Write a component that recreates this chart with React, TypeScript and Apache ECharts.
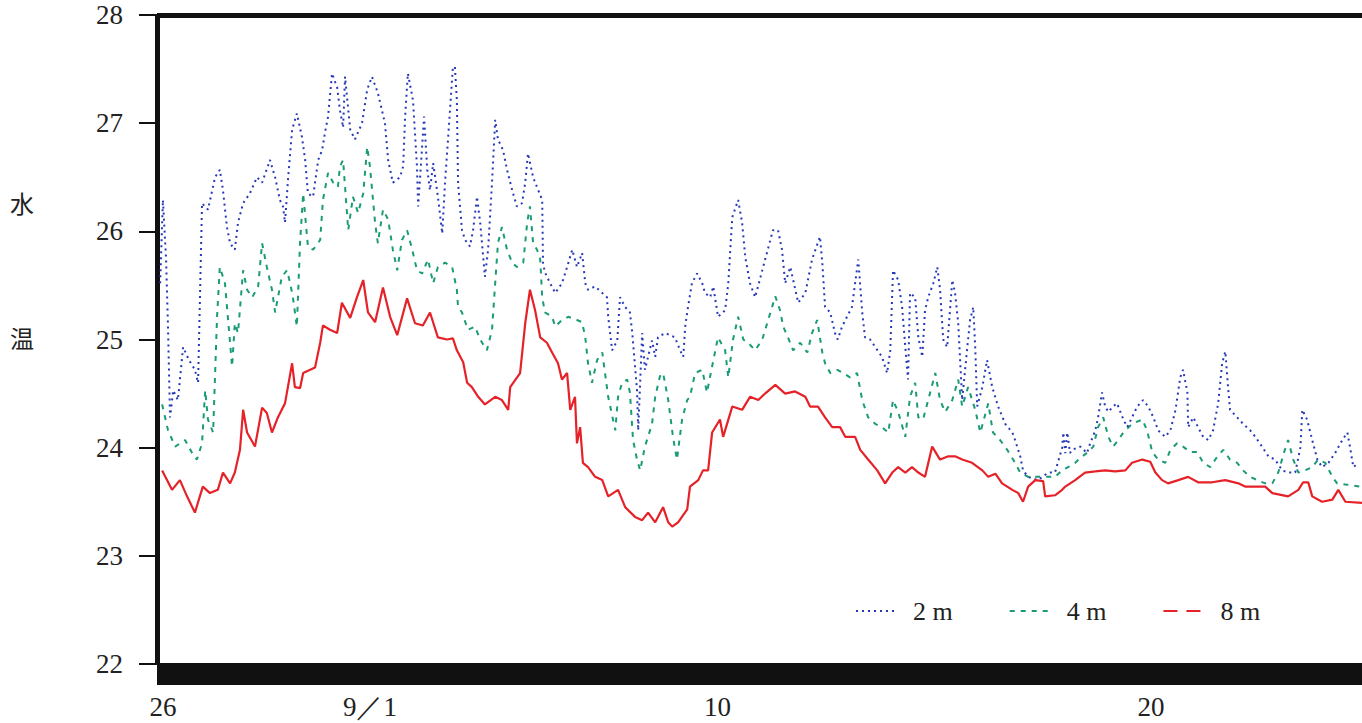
import React, { useEffect, useRef } from "react";
import * as echarts from "echarts";

// x = days since 8/26 00:00, y = water temperature (°C)
const tickDays = [0.15, 5.39, 14.19, 25.16];
const tickLabels = ["26", "9／1", "10", "20"];
const yTitle = ["水", "温"];
const seriesNames = ["2 m", "4 m", "8 m"];

const depth2m: number[][] = [
  [0.08, 25.52], [0.15, 26.29], [0.23, 25.74], [0.28, 25.09], [0.33, 24.28], [0.41, 24.53], [0.53, 24.44],
  [0.66, 24.93], [0.81, 24.81], [0.96, 24.72], [1.04, 24.6], [1.14, 26.26], [1.29, 26.2], [1.47, 26.5],
  [1.59, 26.57], [1.67, 26.38], [1.77, 26.04], [1.85, 25.89], [1.97, 25.83], [2.05, 26.08], [2.18, 26.26],
  [2.35, 26.35], [2.53, 26.5], [2.66, 26.45], [2.86, 26.66], [2.99, 26.5], [3.11, 26.29], [3.19, 26.23],
  [3.24, 26.08], [3.32, 26.5], [3.42, 26.94], [3.54, 27.09], [3.67, 26.87], [3.75, 26.66], [3.82, 26.35],
  [3.95, 26.32], [4.08, 26.66], [4.18, 26.75], [4.25, 26.91], [4.33, 27.06], [4.43, 27.46], [4.56, 27.33],
  [4.63, 27.12], [4.71, 26.96], [4.76, 27.43], [4.89, 26.94], [5.01, 26.85], [5.19, 27.0], [5.32, 27.31],
  [5.44, 27.43], [5.59, 27.28], [5.77, 27.0], [5.85, 26.66], [5.97, 26.45], [6.15, 26.5], [6.23, 26.6],
  [6.28, 27.06], [6.35, 27.46], [6.48, 27.21], [6.58, 26.6], [6.61, 26.23], [6.71, 26.78], [6.76, 27.06],
  [6.84, 26.57], [6.91, 26.38], [6.99, 26.63], [7.11, 26.32], [7.22, 25.98], [7.29, 26.45], [7.37, 26.87],
  [7.49, 27.52], [7.54, 27.52], [7.59, 27.21], [7.62, 26.45], [7.72, 26.01], [7.8, 25.92], [7.92, 25.86],
  [8.0, 26.01], [8.1, 26.32], [8.18, 26.08], [8.3, 25.58], [8.38, 25.83], [8.48, 26.45], [8.56, 27.03],
  [8.63, 26.85], [8.76, 26.75], [8.86, 26.57], [8.99, 26.38], [9.11, 26.23], [9.24, 26.26], [9.32, 26.45],
  [9.39, 26.72], [9.52, 26.5], [9.65, 26.38], [9.75, 26.29], [9.77, 25.71], [9.82, 25.62], [9.95, 25.52],
  [10.08, 25.43], [10.25, 25.52], [10.38, 25.67], [10.51, 25.83], [10.63, 25.67], [10.76, 25.8], [10.84, 25.52],
  [10.91, 25.46], [11.09, 25.49], [11.27, 25.43], [11.39, 25.39], [11.42, 25.21], [11.52, 24.9], [11.65, 24.99],
  [11.72, 25.39], [11.85, 25.3], [11.97, 25.25], [12.03, 25.06], [12.15, 24.53], [12.18, 24.16], [12.28, 25.06],
  [12.35, 24.72], [12.43, 24.84], [12.53, 24.99], [12.61, 24.84], [12.68, 25.02], [12.86, 25.06], [13.11, 25.02],
  [13.24, 24.9], [13.32, 24.84], [13.37, 25.12], [13.44, 25.3], [13.54, 25.52], [13.67, 25.61], [13.8, 25.52],
  [13.87, 25.43], [14.0, 25.39], [14.08, 25.49], [14.2, 25.21], [14.38, 25.27], [14.46, 25.52], [14.56, 26.13],
  [14.71, 26.29], [14.81, 26.08], [14.89, 25.76], [15.01, 25.52], [15.14, 25.39], [15.32, 25.64], [15.59, 26.01],
  [15.72, 26.01], [15.82, 25.83], [15.9, 25.52], [16.03, 25.67], [16.23, 25.34], [16.41, 25.43], [16.58, 25.74],
  [16.78, 25.95], [16.84, 25.71], [16.91, 25.3], [17.04, 25.25], [17.16, 25.06], [17.23, 25.0], [17.34, 25.12],
  [17.59, 25.3], [17.75, 25.74], [17.85, 25.25], [17.92, 25.02], [18.05, 25.0], [18.18, 24.93], [18.35, 24.84],
  [18.48, 24.69], [18.56, 24.9], [18.63, 25.64], [18.76, 25.55], [18.86, 25.3], [18.94, 24.93], [19.01, 24.63],
  [19.06, 25.43], [19.19, 25.39], [19.27, 25.02], [19.37, 24.84], [19.44, 25.27], [19.52, 25.39], [19.65, 25.52],
  [19.75, 25.67], [19.82, 25.46], [19.9, 25.0], [20.0, 24.93], [20.13, 25.55], [20.2, 25.43], [20.28, 25.15],
  [20.38, 24.44], [20.51, 24.93], [20.58, 25.18], [20.66, 25.3], [20.71, 24.93], [20.76, 24.38], [20.89, 24.56],
  [21.01, 24.81], [21.14, 24.56], [21.29, 24.38], [21.47, 24.22], [21.65, 24.14], [21.72, 24.07], [21.85, 23.92],
  [21.92, 23.79], [22.05, 23.73], [22.3, 23.7], [22.56, 23.77], [22.73, 23.77], [22.91, 24.0], [22.94, 24.14],
  [22.99, 23.95], [23.04, 24.14], [23.11, 23.95], [23.16, 23.98], [23.37, 24.01], [23.54, 23.95], [23.62, 24.04],
  [23.75, 24.16], [23.82, 24.28], [23.92, 24.51], [24.0, 24.38], [24.08, 24.33], [24.2, 24.38], [24.3, 24.41],
  [24.46, 24.26], [24.56, 24.19], [24.68, 24.28], [24.81, 24.38], [24.96, 24.44], [25.09, 24.38], [25.22, 24.28],
  [25.34, 24.16], [25.52, 24.1], [25.65, 24.16], [25.78, 24.35], [25.9, 24.65], [25.97, 24.72], [26.08, 24.51],
  [26.1, 24.19], [26.23, 24.28], [26.35, 24.19], [26.48, 24.1], [26.61, 24.07], [26.73, 24.16], [26.86, 24.41],
  [26.96, 24.78], [27.04, 24.89], [27.11, 24.56], [27.16, 24.35], [27.34, 24.28], [27.49, 24.22], [27.67, 24.16],
  [27.8, 24.1], [27.97, 24.01], [28.13, 23.92], [28.3, 23.89], [28.48, 23.79], [28.63, 23.77], [28.81, 23.77],
  [28.94, 24.0], [28.99, 24.35], [29.11, 24.26], [29.24, 24.07], [29.37, 23.89], [29.49, 23.82], [29.65, 23.86],
  [29.82, 23.95], [30.0, 24.07], [30.13, 24.14], [30.2, 24.0], [30.28, 23.82], [30.41, 23.86],
];

const depth4m: number[][] = [
  [0.13, 24.4], [0.28, 24.16], [0.46, 24.01], [0.71, 24.07], [0.89, 23.95], [1.01, 23.89], [1.14, 24.04],
  [1.22, 24.53], [1.29, 24.26], [1.42, 24.14], [1.52, 25.21], [1.59, 25.67], [1.72, 25.52], [1.8, 25.18],
  [1.9, 24.75], [1.97, 25.15], [2.05, 25.06], [2.18, 25.64], [2.28, 25.46], [2.41, 25.39], [2.56, 25.49],
  [2.66, 25.89], [2.78, 25.67], [2.91, 25.46], [2.99, 25.25], [3.16, 25.58], [3.29, 25.64], [3.37, 25.52],
  [3.44, 25.39], [3.54, 25.12], [3.62, 25.89], [3.7, 26.35], [3.82, 25.86], [3.95, 25.83], [4.13, 25.92],
  [4.2, 26.29], [4.33, 26.54], [4.46, 26.45], [4.58, 26.41], [4.63, 26.6], [4.71, 26.66], [4.84, 26.01],
  [4.96, 26.32], [5.09, 26.17], [5.22, 26.35], [5.32, 26.78], [5.39, 26.6], [5.52, 26.08], [5.59, 25.89],
  [5.72, 26.2], [5.85, 26.11], [5.97, 25.83], [6.08, 25.64], [6.2, 25.92], [6.33, 26.01], [6.46, 25.83],
  [6.58, 25.64], [6.71, 25.61], [6.86, 25.74], [6.99, 25.52], [7.11, 25.67], [7.29, 25.71], [7.47, 25.67],
  [7.59, 25.46], [7.62, 25.3], [7.72, 25.25], [7.87, 25.09], [8.05, 25.12], [8.18, 25.0], [8.35, 24.9],
  [8.48, 25.09], [8.56, 25.52], [8.63, 25.89], [8.73, 26.04], [8.86, 25.83], [8.99, 25.71], [9.11, 25.67],
  [9.27, 25.71], [9.37, 26.08], [9.44, 26.23], [9.52, 25.89], [9.62, 25.83], [9.7, 25.74], [9.75, 25.39],
  [9.82, 25.25], [10.0, 25.21], [10.08, 25.12], [10.25, 25.18], [10.41, 25.21], [10.63, 25.18], [10.76, 25.16],
  [10.84, 25.02], [10.91, 24.78], [11.01, 24.6], [11.14, 24.81], [11.27, 24.88], [11.34, 24.69], [11.42, 24.47],
  [11.6, 24.16], [11.67, 24.47], [11.77, 24.6], [11.9, 24.63], [11.97, 24.51], [12.05, 24.07], [12.15, 23.89],
  [12.23, 23.79], [12.35, 24.01], [12.53, 24.22], [12.61, 24.47], [12.73, 24.66], [12.81, 24.69], [12.94, 24.44],
  [13.06, 24.1], [13.16, 23.89], [13.29, 24.26], [13.42, 24.44], [13.49, 24.47], [13.62, 24.69], [13.8, 24.72],
  [13.92, 24.51], [14.05, 24.75], [14.2, 25.02], [14.38, 24.9], [14.46, 24.65], [14.58, 25.0], [14.71, 25.21],
  [14.84, 25.0], [14.96, 24.97], [15.14, 24.9], [15.32, 25.0], [15.65, 25.4], [15.77, 25.27], [15.85, 25.12],
  [15.97, 25.02], [16.1, 24.9], [16.28, 24.97], [16.46, 24.88], [16.58, 25.06], [16.71, 25.18], [16.84, 24.88],
  [16.91, 24.78], [17.04, 24.69], [17.22, 24.72], [17.37, 24.69], [17.54, 24.65], [17.72, 24.69], [17.85, 24.44],
  [18.0, 24.28], [18.18, 24.22], [18.35, 24.19], [18.51, 24.14], [18.63, 24.44], [18.76, 24.33], [18.94, 24.1],
  [19.06, 24.47], [19.19, 24.6], [19.27, 24.28], [19.39, 24.26], [19.52, 24.44], [19.7, 24.69], [19.82, 24.44],
  [19.95, 24.33], [20.13, 24.44], [20.28, 24.63], [20.38, 24.38], [20.53, 24.56], [20.71, 24.35], [20.84, 24.14],
  [21.04, 24.41], [21.16, 24.14], [21.34, 24.07], [21.52, 23.98], [21.67, 23.89], [21.85, 23.77], [22.05, 23.73],
  [22.3, 23.73], [22.56, 23.73], [22.73, 23.73], [22.91, 23.79], [23.06, 23.82], [23.24, 23.86], [23.42, 23.92],
  [23.57, 23.96], [23.7, 24.01], [23.82, 24.19], [23.95, 24.28], [24.08, 24.1], [24.2, 24.01], [24.33, 24.07],
  [24.46, 24.14], [24.68, 24.22], [24.94, 24.26], [25.06, 24.16], [25.19, 23.96], [25.34, 23.89], [25.52, 23.86],
  [25.65, 23.98], [25.82, 24.04], [25.97, 24.01], [26.15, 23.96], [26.33, 23.96], [26.48, 23.86], [26.66, 23.82],
  [26.84, 23.92], [26.99, 23.98], [27.16, 23.89], [27.34, 23.86], [27.49, 23.79], [27.67, 23.73], [27.85, 23.7],
  [28.05, 23.67], [28.23, 23.67], [28.38, 23.77], [28.53, 23.96], [28.63, 24.07], [28.76, 23.89], [28.89, 23.77],
  [29.06, 23.79], [29.24, 23.82], [29.39, 23.89], [29.57, 23.86], [29.75, 23.73], [29.87, 23.67], [30.08, 23.66],
  [30.46, 23.64],
];

const depth8m: number[][] = [
  [0.13, 23.79], [0.38, 23.61], [0.58, 23.7], [0.76, 23.55], [0.96, 23.4], [1.16, 23.64], [1.34, 23.58],
  [1.54, 23.61], [1.67, 23.77], [1.85, 23.67], [1.97, 23.77], [2.1, 23.98], [2.18, 24.35], [2.28, 24.14],
  [2.48, 24.01], [2.66, 24.37], [2.78, 24.32], [2.91, 24.14], [3.06, 24.28], [3.24, 24.41], [3.42, 24.78],
  [3.49, 24.56], [3.62, 24.55], [3.7, 24.69], [4.0, 24.74], [4.13, 24.97], [4.2, 25.13], [4.38, 25.09],
  [4.56, 25.06], [4.68, 25.34], [4.89, 25.2], [5.06, 25.39], [5.22, 25.55], [5.34, 25.25], [5.52, 25.16],
  [5.72, 25.48], [5.9, 25.21], [6.08, 25.04], [6.33, 25.38], [6.53, 25.15], [6.73, 25.13], [6.91, 25.25],
  [7.11, 25.02], [7.34, 25.0], [7.49, 25.01], [7.59, 24.9], [7.75, 24.79], [7.85, 24.6], [7.97, 24.56],
  [8.13, 24.47], [8.3, 24.4], [8.56, 24.47], [8.73, 24.44], [8.89, 24.35], [8.94, 24.56], [9.19, 24.69],
  [9.32, 25.15], [9.44, 25.46], [9.57, 25.27], [9.7, 25.02], [9.87, 24.97], [10.0, 24.88], [10.15, 24.78],
  [10.25, 24.63], [10.38, 24.69], [10.46, 24.35], [10.58, 24.47], [10.63, 24.04], [10.71, 24.19], [10.78, 23.86],
  [10.91, 23.82], [11.09, 23.73], [11.27, 23.7], [11.42, 23.55], [11.67, 23.61], [11.85, 23.45], [12.1, 23.36],
  [12.28, 23.33], [12.43, 23.4], [12.61, 23.31], [12.81, 23.45], [12.94, 23.31], [13.04, 23.27], [13.19, 23.31],
  [13.42, 23.43], [13.49, 23.64], [13.7, 23.7], [13.82, 23.79], [13.95, 23.79], [14.05, 24.14], [14.25, 24.26],
  [14.33, 24.1], [14.56, 24.38], [14.81, 24.35], [15.01, 24.47], [15.22, 24.44], [15.39, 24.5], [15.65, 24.58],
  [15.9, 24.5], [16.15, 24.52], [16.41, 24.47], [16.53, 24.38], [16.73, 24.38], [16.91, 24.28], [17.09, 24.19],
  [17.29, 24.19], [17.42, 24.1], [17.67, 24.1], [17.8, 23.98], [18.0, 23.89], [18.23, 23.79], [18.43, 23.67],
  [18.61, 23.77], [18.76, 23.82], [18.94, 23.77], [19.11, 23.82], [19.27, 23.77], [19.44, 23.73], [19.62, 24.01],
  [19.82, 23.89], [20.03, 23.92], [20.2, 23.92], [20.38, 23.89], [20.63, 23.86], [20.89, 23.79], [21.04, 23.73],
  [21.22, 23.76], [21.39, 23.67], [21.65, 23.61], [21.8, 23.58], [21.92, 23.5], [22.05, 23.64], [22.23, 23.7],
  [22.43, 23.69], [22.48, 23.55], [22.73, 23.56], [22.91, 23.61], [22.99, 23.64], [23.24, 23.7], [23.49, 23.77],
  [23.75, 23.78], [24.0, 23.79], [24.25, 23.78], [24.51, 23.79], [24.68, 23.86], [24.94, 23.89], [25.14, 23.87],
  [25.27, 23.77], [25.44, 23.7], [25.59, 23.67], [25.85, 23.7], [26.1, 23.73], [26.35, 23.68], [26.71, 23.68],
  [27.04, 23.7], [27.37, 23.67], [27.54, 23.64], [28.05, 23.64], [28.23, 23.58], [28.63, 23.55], [28.89, 23.61],
  [29.01, 23.68], [29.14, 23.68], [29.24, 23.55], [29.49, 23.5], [29.75, 23.52], [29.9, 23.61], [30.08, 23.5],
  [30.5, 23.49],
];

const SERIF = "'Liberation Serif', 'DejaVu Serif', serif";
const CJK = "'Noto Sans CJK JP', sans-serif";

export default function App() {
  const ref = useRef<HTMLDivElement>(null);
  useEffect(() => {
    if (!ref.current) return;
    const chart = echarts.init(ref.current, undefined, { renderer: "svg" });
    const labelFor = (v: number) => {
      let best = 0;
      for (let i = 1; i < tickDays.length; i++) {
        if (Math.abs(tickDays[i] - v) < Math.abs(tickDays[best] - v)) best = i;
      }
      return tickLabels[best];
    };
    chart.setOption({
      animation: false,
      backgroundColor: "#ffffff",
      grid: { left: 157, right: 0, top: 15, bottom: 59 },
      xAxis: [
        {
          type: "value",
          min: 0,
          max: 30.5,
          position: "bottom",
          offset: 10,
          axisLine: { show: true, lineStyle: { color: "#111", width: 22, cap: "butt" } },
          axisTick: { show: false },
          splitLine: { show: false },
          axisLabel: {
            customValues: tickDays,
            formatter: (v: number) => labelFor(v),
            margin: 19,
            fontSize: 27,
            fontFamily: SERIF,
            color: "#222",
            showMinLabel: true,
            showMaxLabel: true,
          },
        },
        {
          type: "value",
          min: 0,
          max: 30.5,
          position: "top",
          axisLine: { show: true, lineStyle: { color: "#111", width: 5, cap: "butt" } },
          axisTick: { show: false },
          axisLabel: { show: false },
          splitLine: { show: false },
        },
      ],
      yAxis: {
        type: "value",
        min: 22,
        max: 28,
        interval: 1,
        axisLine: { show: true, lineStyle: { color: "#111", width: 5, cap: "butt" } },
        axisTick: { show: true, length: 18, lineStyle: { color: "#111", width: 2 } },
        splitLine: { show: false },
        axisLabel: { margin: 34, fontSize: 27, fontFamily: SERIF, color: "#222" },
      },
      legend: {
        left: 850,
        top: 593,
        itemWidth: 40,
        itemHeight: 14,
        itemGap: 56,
        itemStyle: { color: "transparent", borderWidth: 0, opacity: 0 },
        textStyle: { fontSize: 26, fontFamily: SERIF, color: "#222", padding: [0, 0, 0, 12] },
        data: [
          { name: seriesNames[0] },
          { name: seriesNames[1] },
          { name: seriesNames[2], lineStyle: { type: [14, 9], width: 2 } },
        ],
      },
      graphic: [
        { type: "text", left: 10, top: 190, style: { text: yTitle[0], fontSize: 24, fontFamily: CJK, fill: "#222" } },
        { type: "text", left: 10, top: 325, style: { text: yTitle[1], fontSize: 24, fontFamily: CJK, fill: "#222" } },
      ],
      series: [
        {
          name: seriesNames[0],
          type: "line",
          data: depth2m,
          symbol: "none",
          lineStyle: { color: "#2638b8", width: 2, type: [2, 4] },
          itemStyle: { color: "#2638b8" },
          z: 3,
        },
        {
          name: seriesNames[1],
          type: "line",
          data: depth4m,
          symbol: "none",
          lineStyle: { color: "#1a9b78", width: 2, type: [5, 6] },
          itemStyle: { color: "#1a9b78" },
          z: 2,
        },
        {
          name: seriesNames[2],
          type: "line",
          data: depth8m,
          symbol: "none",
          lineStyle: { color: "#e52228", width: 2.2 },
          itemStyle: { color: "#e52228" },
          z: 4,
        },
      ],
    });
    return () => chart.dispose();
  }, []);
  return (
    <div
      ref={ref}
      style={{ position: "fixed", left: 0, top: 0, width: 1362, height: 723, background: "#fff" }}
    />
  );
}
